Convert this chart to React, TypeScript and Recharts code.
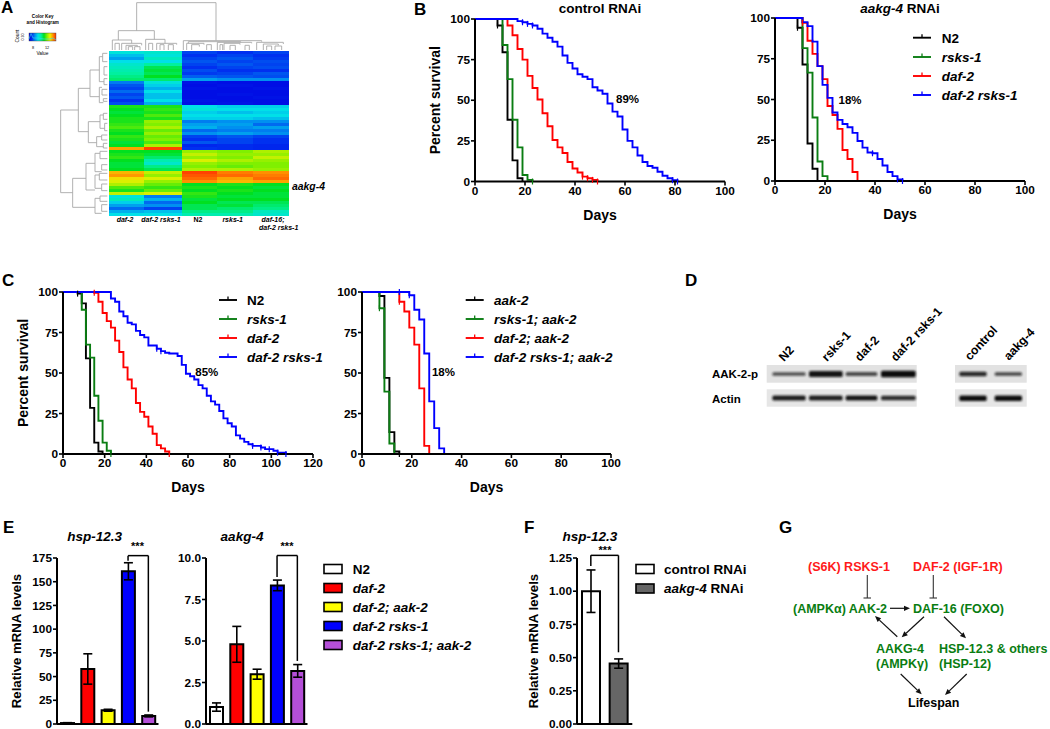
import React from "react";
import {
  ComposedChart, Line, XAxis, YAxis, ReferenceDot, ReferenceLine, BarChart, Bar, Cell, ErrorBar,
} from "recharts";

const FONT = "'Liberation Sans', Arial, sans-serif";
const BLACK = "#000000", GREEN = "#0a7d12", RED = "#ff0000", BLUE = "#0000ff";

/* ---------- survival data: [day, percent alive from that day on] ---------- */
const B1_N2 = [[0,100],[9,96],[11,79.5],[13,38],[15,13],[17,2],[19,0]];
const B1_RSKS = [[0,100],[11,84],[13,63],[15,38],[17,21],[19,4],[21,1],[23,0]];
const B1_DAF2 = [[0,100],[13,96],[15,90],[17,81.5],[19,75],[21,65],[23,57.5],[25,50.5],[27,42],[29,34],[31,25.5],[33,21],[35,17.5],[37,12],[39,8],[41,5.5],[43,3],[45,2],[47,1],[49,0]];
const B1_DR = [[0,100],[17,98.7],[19,98],[21,97],[23,96],[25,94],[27,91],[29,88.5],[31,86],[33,83],[35,77.5],[37,73],[39,69.5],[41,66],[43,64.5],[45,63],[47,58],[49,56],[51,54],[53,48],[55,43],[57,40],[59,32],[61,25],[63,21],[65,16],[67,12],[69,9.5],[71,8.5],[73,6],[75,3.5],[77,2],[79,0.8],[81,0]];
const B2_N2 = [[0,100],[9,94],[11,71.5],[13,23],[15,7.5],[17,0]];
const B2_RSKS = [[0,100],[11,81.5],[13,66.5],[15,39],[17,12],[19,3],[21,0]];
const B2_DAF2 = [[0,100],[11,97],[13,86],[15,78],[17,70.5],[19,62.5],[21,46],[23,40.5],[25,32],[27,19],[29,13.5],[31,5.5],[33,0]];
const B2_DR = [[0,100],[11,97.5],[13,95],[15,85.5],[17,70.5],[19,59],[21,51],[23,42],[25,37.5],[27,35],[29,33],[31,29.5],[33,24.5],[35,20.5],[37,17.5],[39,17],[41,13.5],[43,9.5],[45,5.5],[47,3],[49,1],[51,0]];
const C1_N2 = [[0,100],[7,99],[9,93],[11,59],[13,28.5],[15,7],[17,1.5],[19,0]];
const C1_RSKS = [[0,100],[9,89],[11,67.5],[13,59.5],[15,36],[17,20.5],[19,7],[21,2],[23,0]];
const C1_DAF2 = [[0,100],[15,99.5],[17,94],[19,87],[21,82],[23,78],[25,70],[27,63],[29,53.5],[31,46],[33,40.5],[35,31.5],[37,26],[39,23],[41,17],[43,12.5],[45,5.5],[47,3.5],[49,1.5],[51,0]];
const C1_DR = [[0,100],[23,96],[25,94],[27,88],[29,85],[31,81],[33,80],[35,76],[37,73.5],[39,72],[41,67],[43,67],[45,65],[47,63.5],[49,62.5],[51,62],[53,62],[55,60.5],[57,55],[59,49.5],[61,48],[63,46],[65,42.5],[67,40.5],[69,36],[71,32.5],[73,30.5],[75,26.5],[77,22],[79,19],[81,17],[83,11.5],[85,9.5],[87,7.5],[89,6],[91,5],[93,5],[95,4],[97,3],[99,3],[101,2],[103,0.8],[105,0.8],[107,0]];
const C2_AAK = [[0,100],[7,97.5],[9,47],[11,13.5],[13,1.5],[15,0]];
const C2_RSKS = [[0,100],[7,90],[9,38.5],[11,6.5],[13,0]];
const C2_DAF2 = [[0,100],[15,94],[17,88],[19,78],[21,67.5],[23,40.5],[25,5],[27,0]];
const C2_DR = [[0,100],[15,100],[19,98],[21,89],[23,83],[25,62],[27,32.5],[29,16],[31,3.5],[33,0]];

const B1_CENSORED = { n2: [9], rsks: [23], daf2: [43,45,47,49], dr: [19,21,23,79,81] };
const B2_CENSORED = { n2: [9], rsks: [9], daf2: [11], dr: [39,49,51] };
const C1_CENSORED = { n2: [7], rsks: [23], daf2: [15,51], dr: [45,47,91,95,99,103,107] };
const C2_CENSORED = { n2: [15], rsks: [7], daf2: [15], dr: [15,19] };

/* ---------- bar data ---------- */
const E_GENOTYPES = ["N2", "daf-2", "daf-2; aak-2", "daf-2 rsks-1", "daf-2 rsks-1; aak-2"];
const E_COLORS = ["#ffffff", "#ff0000", "#ffff00", "#0000ff", "#b44fd8"];
const E1_VALUES = [1, 58, 14.5, 161, 8.5];
const E1_ERRORS = [0.4, 16, 1, 9, 1];
const E2_VALUES = [1.02, 4.8, 3.0, 8.35, 3.2];
const E2_ERRORS = [0.25, 1.08, 0.3, 0.32, 0.38];
const F_GROUPS = ["control RNAi", "aakg-4 RNAi"];
const F_COLORS = ["#ffffff", "#666666"];
const F_VALUES = [1.0, 0.455];
const F_ERRORS = [0.16, 0.035];

/* ---------- heat map: expression level per row, top to bottom ---------- */
const HM_DAF2 = [3.2,2.6,2.2,3.0,3.4,3.6,3.8,4.0,4.2,4.4,1.8,1.4,1.2,1.6,1.2,1.4,1.0,1.3,5.2,5.0,4.8,5.0,5.2,5.2,5.4,5.6,5.2,5.0,5.4,5.2,4.8,5.0,7.8,5.0,5.2,5.4,5.0,4.8,4.8,5.0,7.6,7.9,7.2,6.8,6.4,5.6,5.2,6.6,3.2,3.6,2.8,2.2,1.6,2.4,3.0];
const HM_DAF2_RSKS = [3.4,3.2,3.6,3.0,4.0,4.6,4.8,4.6,5.0,4.4,3.2,2.8,2.4,3.0,2.6,2.6,3.0,2.4,5.2,5.4,5.2,5.6,5.2,6.2,6.0,6.4,5.8,6.2,5.8,6.0,5.6,6.4,8.8,5.0,4.8,4.4,3.8,3.4,4.2,4.6,6.6,6.2,6.8,6.2,5.8,5.4,5.8,6.8,1.8,2.4,1.6,2.0,1.2,2.6,3.0];
const HM_N2 = [1.2,1.0,1.2,1.4,1.2,1.0,1.3,1.1,1.5,2.2,0.4,0.3,0.4,0.3,0.3,0.3,0.4,0.3,3.0,3.2,2.8,3.0,2.8,1.8,2.2,2.4,1.6,2.0,1.2,1.0,1.4,0.8,1.0,6.2,6.6,6.2,6.8,6.2,6.0,6.4,8.8,8.6,8.4,8.0,5.0,5.2,5.0,5.4,5.2,4.8,5.0,4.6,4.6,4.2,3.8];
const HM_RSKS = [1.0,1.2,1.4,1.2,1.4,1.2,1.0,1.2,1.4,2.0,0.3,0.4,0.3,0.3,0.4,0.3,0.3,0.4,2.8,3.0,2.6,3.0,2.8,2.0,2.2,2.0,1.8,2.2,1.4,1.2,1.2,0.9,0.9,6.0,6.2,6.0,6.4,6.0,5.8,6.4,8.2,8.4,7.8,7.6,5.2,5.0,5.2,5.0,4.8,5.0,4.6,4.8,4.4,4.2,3.8];
const HM_DAF16 = [1.2,1.0,1.1,1.3,1.2,1.3,1.0,1.4,1.3,2.0,0.3,0.3,0.4,0.3,0.3,0.4,0.3,0.3,2.8,3.0,2.8,3.0,2.6,2.0,1.6,2.2,1.8,2.0,1.2,1.0,1.0,0.8,0.8,6.4,6.2,6.6,6.2,6.0,6.0,6.2,8.0,8.2,8.4,7.8,5.0,4.8,5.0,4.8,4.8,5.0,4.6,4.4,4.2,3.6,3.4];
const HM_COLUMNS = [HM_DAF2, HM_DAF2_RSKS, HM_N2, HM_RSKS, HM_DAF16];
const HM_COLUMN_SHARE = [35, 38, 35, 36, 36];
const HM_STOPS = ["#0000e0", "#0030f0", "#0090f0", "#00e0e8", "#00f0a0", "#00e020", "#80f000", "#f0f000", "#ff9000", "#ff3000"];

const hex = (c: string) => [1, 3, 5].map((i) => parseInt(c.slice(i, i + 2), 16));
function heatColor(v: number) {
  const i = Math.min(Math.floor(v), HM_STOPS.length - 2);
  const t = v - i;
  const a = hex(HM_STOPS[i]), b = hex(HM_STOPS[i + 1]);
  return `rgb(${a.map((x, k) => Math.round(x + (b[k] - x) * t)).join(",")})`;
}

/* ---------- dendrograms, in 1/3 px: [a, b, stem, endA, endB] ---------- */
const TOP_TREE = [
  [410,648,8,92,122],[355,463,92,120,118],[337,395,120,150,130],[365,425,130,150,136],[378,412,136,150,140],[437,495,118,150,130],[470,530,130,150,134],[446,458,130,150,150],
  [550,785,122,150,125],[565,722,125,130,127],[652,755,127,150,130],[672,720,130,150,134],[770,850,127,150,132],[790,835,132,150,136],[560,612,130,150,134],[575,598,134,150,140],
  [345,358,130,150,150],[385,398,140,150,150],[404,420,140,150,150],[480,492,134,150,150],[505,520,134,150,150],[620,634,134,150,150],[660,668,134,150,150],[690,706,136,150,150],[735,748,136,150,150],[800,815,138,150,150],[825,845,138,150,150],
];
const LEFT_TREE = [
  [330,578,182,235,218],[265,395,235,270,265],[210,290,270,298,298],[365,428,265,300,290],[535,622,218,258,285],[490,570,258,285,285],[595,640,285,300,305],
  [170,245,298,308,312],[262,308,298,306,310],[345,385,300,310,314],[410,440,290,305,310],[460,515,285,300,305],[525,565,285,298,305],
  [160,185,308,322,322],[200,225,312,322,322],[236,254,312,322,322],[268,285,306,322,322],[296,304,310,322,322],[340,358,310,322,322],[370,392,314,322,322],[405,420,305,322,322],[430,444,310,322,322],[454,476,300,322,322],[494,510,305,322,322],[520,540,298,322,322],[552,572,305,322,322],[588,604,300,322,322],[614,634,305,322,322],
];

/* ---------- blot band strengths ---------- */
const BLOT_LANES = [[337,437],[447,548],[557,652],[663,767]];
const BLOT_LANES_RIGHT = [[898,980],[1004,1086]];
const AAK_BANDS = [0.55, 0.95, 0.6, 1.0];
const ACTIN_BANDS = [0.9, 0.88, 0.95, 0.8];
const AAK_BANDS_RIGHT = [0.82, 0.62];
const ACTIN_BANDS_RIGHT = [1.0, 1.0];

type Sets = { n2: number[]; rsks: number[]; daf2: number[]; dr: number[] };
const toPoints = (steps: number[][], cens: number[]) =>
  steps.map(([x, y]) => ({ x, y, c: cens.includes(x) }));

const censorDot = (color: string) => (p: any) => {
  if (!p.payload || !p.payload.c) return <g key={p.index} />;
  return <line key={p.index} x1={p.cx} x2={p.cx} y1={p.cy - 3} y2={p.cy + 3} stroke={color} strokeWidth={1.2} />;
};

const tickStyle = { fontFamily: FONT, fontSize: 11.8, fontWeight: 700, fill: "#000" };
const labelStyle = { fontFamily: FONT, fontSize: 14, fontWeight: 700, fill: "#000" };

function Survival({ x0, y100, plotW, plotH, xMax, xTicks, series, cens, note, yLabel }: any) {
  const YW = 50, XH = 46, PAD = 8;
  const colors = [BLACK, GREEN, RED, BLUE];
  const keys: (keyof Sets)[] = ["n2", "rsks", "daf2", "dr"];
  return (
    <div style={{ position: "absolute", left: x0 - YW, top: y100 - PAD }}>
      <ComposedChart width={YW + plotW + 14} height={PAD + plotH + XH} margin={{ top: PAD, right: 14, left: 0, bottom: 0 }}>
        <XAxis
          dataKey="x" type="number" domain={[0, xMax]} ticks={xTicks} allowDuplicatedCategory={false} interval={0}
          height={XH} tick={tickStyle} tickSize={4} tickMargin={1}
          axisLine={{ stroke: "#000", strokeWidth: 2 }} tickLine={{ stroke: "#000", strokeWidth: 1.6 }}
          label={{ value: "Days", position: "insideBottom", offset: 8, style: labelStyle }}
        />
        <YAxis
          type="number" domain={[0, 100]} ticks={[0, 25, 50, 75, 100]} width={YW}
          tick={tickStyle} tickSize={4} tickMargin={1}
          axisLine={{ stroke: "#000", strokeWidth: 2 }} tickLine={{ stroke: "#000", strokeWidth: 1.6 }}
          label={yLabel ? { value: "Percent survival", angle: -90, position: "insideLeft", offset: 10, style: { ...labelStyle, textAnchor: "middle" } } : undefined}
        />
        {series.map((s: number[][], i: number) => (
          <Line
            key={keys[i]} data={toPoints(s, cens[keys[i]])} dataKey="y" type="stepAfter" stroke={colors[i]} strokeWidth={1.9}
            dot={censorDot(colors[i])} activeDot={false} isAnimationActive={false} legendType="none"
          />
        ))}
        <ReferenceDot x={note[0]} y={note[1]} r={0} stroke="none" fill="none"
          label={{ value: note[2], position: "center", style: { fontFamily: FONT, fontSize: 11.5, fontWeight: 700, fill: "#000" } }} />
      </ComposedChart>
    </div>
  );
}

function Bars({ x0, plotW, yMax, ticks, fmt, cats, values, errors, colors, barSize, bracket, yLabel, labelOffset }: any) {
  const YW = 50, PAD = 18, BOTTOM = 5;
  const rows = cats.map((g: string, i: number) => ({ g, v: values[i], e: errors[i] }));
  const yTop = 557.7, yBottom = 723.7;
  const seg = (a: any, b: any) => (
    <ReferenceLine ifOverflow="visible" segment={[a, b]} stroke="#000" strokeWidth={1.5} />
  );
  return (
    <div style={{ position: "absolute", left: x0 - YW, top: yTop - PAD }}>
      <BarChart width={YW + plotW + 2} height={PAD + (yBottom - yTop) + BOTTOM + 1} data={rows} margin={{ top: PAD, right: 2, left: 0, bottom: BOTTOM }} barCategoryGap={0}>
        <XAxis dataKey="g" type="category" height={1} tick={false} tickLine={false} axisLine={{ stroke: "#000", strokeWidth: 2 }} />
        <YAxis
          type="number" domain={[0, yMax]} ticks={ticks} width={YW} interval={0} tickFormatter={fmt}
          tick={tickStyle} tickSize={4} tickMargin={1}
          axisLine={{ stroke: "#000", strokeWidth: 2 }} tickLine={{ stroke: "#000", strokeWidth: 1.6 }}
          label={yLabel ? { value: "Relative mRNA levels", angle: -90, position: "insideLeft", offset: labelOffset, style: { ...labelStyle, fontSize: 13.2, textAnchor: "middle" } } : undefined}
        />
        <Bar dataKey="v" barSize={barSize} stroke="#000" strokeWidth={2} isAnimationActive={false}>
          {rows.map((r: any, i: number) => <Cell key={r.g} fill={colors[i]} />)}
          <ErrorBar dataKey="e" width={4.5} stroke="#000" strokeWidth={1.6} isAnimationActive={false} />
        </Bar>
        {seg({ x: bracket.from, y: bracket.top }, { x: bracket.to, y: bracket.top })}
        {seg({ x: bracket.from, y: bracket.top }, { x: bracket.from, y: bracket.fromEnd })}
        {seg({ x: bracket.to, y: bracket.top }, { x: bracket.to, y: bracket.toEnd })}
      </BarChart>
    </div>
  );
}

function Heatmap() {
  const rows = HM_DAF2.map((_, r) => {
    const o: any = { r };
    HM_COLUMN_SHARE.forEach((w, c) => (o["c" + c] = w));
    return o;
  });
  return (
    <div style={{ position: "absolute", left: 109, top: 51 }}>
      <BarChart layout="vertical" width={180} height={165} data={rows} margin={{ top: 0, right: 0, left: 0, bottom: 0 }} barCategoryGap={0} barGap={0}>
        <XAxis type="number" hide domain={[0, 180]} />
        <YAxis type="category" hide dataKey="r" />
        {HM_COLUMNS.map((col, c) => (
          <Bar key={c} dataKey={"c" + c} stackId="h" isAnimationActive={false}>
            {col.map((v, i) => <Cell key={i} fill={heatColor(v)} />)}
          </Bar>
        ))}
      </BarChart>
    </div>
  );
}

function T({ x, y, s, size = 13.5, b = true, i = false, a = "start", c = "#000", rot }: any) {
  return (
    <text x={x} y={y} fontFamily={FONT} fontSize={size} fontWeight={b ? 700 : 400} fontStyle={i ? "italic" : "normal"}
      textAnchor={a} fill={c} transform={rot ? `rotate(${rot} ${x} ${y})` : undefined}>{s}</text>
  );
}

function Arrow({ p, c = "#111" }: any) {
  const [x1, y1, x2, y2] = p;
  const ang = Math.atan2(y2 - y1, x2 - x1);
  const h = 6, w = 2.6;
  const bx = x2 - h * Math.cos(ang), by = y2 - h * Math.sin(ang);
  const nx = -Math.sin(ang) * w, ny = Math.cos(ang) * w;
  return (
    <g>
      <line x1={x1} y1={y1} x2={bx} y2={by} stroke={c} strokeWidth={1.2} />
      <polygon points={`${x2},${y2} ${bx + nx},${by + ny} ${bx - nx},${by - ny}`} fill={c} />
    </g>
  );
}

function Tree({ list, horizontal }: any) {
  return (
    <g stroke="#a8a8a8" strokeWidth={0.9} fill="none">
      {list.map((b: number[], k: number) => {
        const [p, q, s, e1, e2] = b.map((v) => v / 3);
        const d = horizontal
          ? `M${p} ${e1}V${s}H${q}V${e2}`
          : `M${e1} ${p}H${s}V${q}H${e2}`;
        return <path key={k} d={d} />;
      })}
    </g>
  );
}

function Overlay() {
  const stepLegend = (lx: number, tx: number, ys: number[], names: string[], italics: boolean[]) =>
    names.map((n, k) => (
      <g key={n}>
        <line x1={lx} x2={lx + 18} y1={ys[k]} y2={ys[k]} stroke={[BLACK, GREEN, RED, BLUE][k]} strokeWidth={1.9} />
        <line x1={lx + 9} x2={lx + 9} y1={ys[k] - 3.5} y2={ys[k]} stroke={[BLACK, GREEN, RED, BLUE][k]} strokeWidth={1.3} />
        <T x={tx} y={ys[k] + 5} s={n} i={italics[k]} />
      </g>
    ));
  const boxLegend = (lx: number, tx: number, ys: number[], names: any[], colors: string[]) =>
    names.map((n, k) => (
      <g key={k}>
        <rect x={lx} y={ys[k] - 4.5} width={18} height={9} fill={colors[k]} stroke="#000" strokeWidth={1.6} />
        <T x={tx} y={ys[k] + 4.5} s={n} i={typeof n === "string" && n !== "N2"} />
      </g>
    ));
  const band = (lane: number[], yc: number, strength: number, k: any, thick: number) => (
    <rect key={k} x={660 + lane[0] / 3} width={(lane[1] - lane[0]) / 3} y={yc - thick * strength / 2} height={thick * strength} rx={1.5}
      fill="#111" opacity={0.3 + 0.7 * strength} filter="url(#bl)" />
  );
  return (
    <svg width={1050} height={729} style={{ position: "absolute", left: 0, top: 0, pointerEvents: "none" }}>
      <defs>
        <filter id="bl" x="-20%" y="-80%" width="140%" height="260%"><feGaussianBlur stdDeviation="1.1" /></filter>
        <linearGradient id="key">
          {HM_STOPS.map((c, i) => <stop key={i} offset={`${(i / 9) * 100}%`} stopColor={c} />)}
        </linearGradient>
      </defs>

      {/* panel letters */}
      <T x={1} y={13} s="A" size={17} />
      <T x={414} y={15} s="B" size={17} />
      <T x={2} y={286} s="C" size={17} />
      <T x={685} y={286} s="D" size={17} />
      <T x={3} y={533} s="E" size={17} />
      <T x={524} y={533} s="F" size={17} />
      <T x={779} y={533} s="G" size={17} />

      {/* A: colour key */}
      <T x={42.7} y={17.5} s="Color Key" size={4.6} a="middle" />
      <T x={42.7} y={23.5} s="and Histogram" size={4.6} a="middle" />
      <rect x={29} y={33} width={27} height={8} fill="url(#key)" stroke="#444" strokeWidth={0.4} />
      <path d="M29 39 L31 33.5 L33 38 L38 38 L44 39 L50 39 L53 38 L56 40" stroke="#33ddee" strokeWidth={0.6} fill="none" />
      <T x={19} y={36} s="Count" size={4.8} b={false} a="middle" rot={-90} />
      <T x={24} y={37} s="0  30" size={3.6} b={false} a="middle" rot={-90} />
      <T x={33} y={48.5} s="8" size={3.8} b={false} a="middle" />
      <T x={47} y={48.5} s="12" size={3.8} b={false} a="middle" />
      <T x={42.5} y={54.5} s="Value" size={4.8} b={false} a="middle" />
      <Tree list={TOP_TREE} horizontal />
      <Tree list={LEFT_TREE} />
      <T x={125} y={222} s="daf-2" size={7} i a="middle" />
      <T x={161} y={222} s="daf-2 rsks-1" size={7} i a="middle" />
      <T x={198} y={222} s="N2" size={7} a="middle" />
      <T x={232.7} y={222} s="rsks-1" size={7} i a="middle" />
      <T x={273} y={222} s="daf-16;" size={7} i a="middle" />
      <T x={278.7} y={230} s="daf-2 rsks-1" size={7} i a="middle" />
      <T x={292} y={190} s="aakg-4" size={10.4} i />

      {/* B */}
      <T x={600} y={13} s="control RNAi" size={13.5} a="middle" />
      <text x={900} y={12.5} fontFamily={FONT} fontSize={13.5} fontWeight={700} textAnchor="middle">
        <tspan fontStyle="italic">aakg-4</tspan> RNAi
      </text>
      {stepLegend(913, 941.7, [37.7, 57, 76, 95], ["N2", "rsks-1", "daf-2", "daf-2 rsks-1"], [false, true, true, true])}

      {/* C */}
      {stepLegend(219, 247, [300, 319, 338, 357], ["N2", "rsks-1", "daf-2", "daf-2 rsks-1"], [false, true, true, true])}
      {stepLegend(465.7, 494, [300, 319, 338, 357], ["aak-2", "rsks-1; aak-2", "daf-2; aak-2", "daf-2 rsks-1; aak-2"], [true, true, true, true])}

      {/* D */}
      <rect x={766.7} y={365} width={150} height={17.7} fill="#e2e2e2" />
      <rect x={766.7} y={389.3} width={150} height={17.4} fill="#e6e6e6" />
      <rect x={955} y={365} width={71.7} height={17.7} fill="#e2e2e2" />
      <rect x={955} y={389.3} width={71.7} height={17.4} fill="#e6e6e6" />
      {BLOT_LANES.map((l, k) => band(l, 374, AAK_BANDS[k], "a" + k, 6.5))}
      {BLOT_LANES.map((l, k) => band(l, 398, ACTIN_BANDS[k], "b" + k, 5.5))}
      {BLOT_LANES_RIGHT.map((l, k) => band(l, 374, AAK_BANDS_RIGHT[k], "c" + k, 5.5))}
      {BLOT_LANES_RIGHT.map((l, k) => band(l, 398.3, ACTIN_BANDS_RIGHT[k], "d" + k, 5.5))}
      <T x={712} y={378} s="AAK-2-p" size={11.5} />
      <T x={712} y={403} s="Actin" size={11.5} />
      <T x={784} y={362} s="N2" size={12.2} rot={-47} />
      <T x={827} y={362} s="rsks-1" size={12.2} rot={-47} />
      <T x={860} y={362} s="daf-2" size={12.2} rot={-47} />
      <T x={896} y={362} s="daf-2 rsks-1" size={12.2} rot={-47} />
      <T x={970} y={361} s="control" size={12.2} rot={-47} />
      <T x={1009} y={361} s="aakg-4" size={12.2} rot={-47} />

      {/* E */}
      <T x={94.7} y={541} s="hsp-12.3" i a="middle" />
      <T x={242} y={541} s="aakg-4" i a="middle" />
      <T x={137.5} y={550} s="***" size={11} a="middle" />
      <T x={287} y={550} s="***" size={11} a="middle" />
      {boxLegend(324, 352.7, [569, 588, 607, 626, 645], E_GENOTYPES, E_COLORS)}

      {/* F */}
      <T x={590} y={541} s="hsp-12.3" i a="middle" />
      <T x={605} y={554} s="***" size={11} a="middle" />
      <rect x={636} y={564.5} width={18} height={9} fill="#fff" stroke="#000" strokeWidth={1.6} />
      <rect x={636} y={584} width={18} height={9} fill="#666" stroke="#000" strokeWidth={1.6} />
      <T x={664} y={574} s="control RNAi" />
      <text x={664} y={593} fontFamily={FONT} fontSize={13.5} fontWeight={700}><tspan fontStyle="italic">aakg-4</tspan> RNAi</text>

      {/* G */}
      <T x={808} y={571} s="(S6K) RSKS-1" size={12.5} c="#ff1a1a" />
      <T x={913} y={571} s="DAF-2 (IGF-1R)" size={12.5} c="#ff1a1a" />
      <T x={793} y={613} s="(AMPKα) AAK-2" size={12.5} c={GREEN} />
      <T x={913} y={613} s="DAF-16 (FOXO)" size={12.5} c={GREEN} />
      <T x={876} y={653} s="AAKG-4" size={12.5} c={GREEN} />
      <T x={876} y={668} s="(AMPKγ)" size={12.5} c={GREEN} />
      <T x={939} y={653} s="HSP-12.3 & others" size={12.5} c={GREEN} />
      <T x={939} y={668} s="(HSP-12)" size={12.5} c={GREEN} />
      <T x={908} y={707} s="Lifespan" size={12.5} />
      <g stroke="#333" strokeWidth={1.1}>
        <line x1={867.3} y1={575} x2={867.3} y2={598} /><line x1={863.5} y1={598} x2={871} y2={598} />
        <line x1={933.3} y1={575} x2={933.3} y2={598} /><line x1={929.5} y1={598} x2={937} y2={598} />
      </g>
      <Arrow p={[890, 608.3, 910, 608.3]} />
      <Arrow p={[897.3, 636.7, 875, 616]} />
      <Arrow p={[924, 616.7, 901.7, 637.3]} />
      <Arrow p={[944, 616.7, 966, 638.3]} />
      <Arrow p={[900.7, 674, 921.7, 694.3]} />
      <Arrow p={[966.7, 674, 945, 695]} />
    </svg>
  );
}

export default function App() {
  const t5 = [0, 20, 40, 60, 80, 100];
  return (
    <div style={{ position: "absolute", left: 0, top: 0, width: 1050, height: 729, background: "#fff", overflow: "hidden" }}>
      <Heatmap />
      <Survival x0={475} y100={19} plotW={250} plotH={162.5} xMax={100} xTicks={t5} yLabel
        series={[B1_N2, B1_RSKS, B1_DAF2, B1_DR]} cens={B1_CENSORED} note={[61, 50.7, "89%"]} />
      <Survival x0={775} y100={18} plotW={250} plotH={163} xMax={100} xTicks={t5}
        series={[B2_N2, B2_RSKS, B2_DAF2, B2_DR]} cens={B2_CENSORED} note={[30, 50, "18%"]} />
      <Survival x0={63} y100={292} plotW={250} plotH={162} xMax={120} xTicks={[0, 20, 40, 60, 80, 100, 120]} yLabel
        series={[C1_N2, C1_RSKS, C1_DAF2, C1_DR]} cens={C1_CENSORED} note={[69, 50.6, "85%"]} />
      <Survival x0={362} y100={292} plotW={249} plotH={162} xMax={100} xTicks={t5}
        series={[C2_AAK, C2_RSKS, C2_DAF2, C2_DR]} cens={C2_CENSORED} note={[32.7, 50.6, "18%"]} />
      <Bars x0={56.7} plotW={101.5} yMax={175} ticks={[0, 25, 50, 75, 100, 125, 150, 175]} fmt={(v: number) => String(v)}
        cats={E_GENOTYPES} values={E1_VALUES} errors={E1_ERRORS} colors={E_COLORS} barSize={13} yLabel labelOffset={9.3}
        bracket={{ from: E_GENOTYPES[3], to: E_GENOTYPES[4], top: 177.5, fromEnd: 172, toEnd: 13 }} />
      <Bars x0={205.7} plotW={101.5} yMax={10} ticks={[0, 2.5, 5, 7.5, 10]} fmt={(v: number) => v.toFixed(1)}
        cats={E_GENOTYPES} values={E2_VALUES} errors={E2_ERRORS} colors={E_COLORS} barSize={13}
        bracket={{ from: E_GENOTYPES[3], to: E_GENOTYPES[4], top: 10.15, fromEnd: 8.85, toEnd: 3.8 }} />
      <Bars x0={576.7} plotW={55.3} yMax={1.25} ticks={[0, 0.25, 0.5, 0.75, 1, 1.25]} fmt={(v: number) => v.toFixed(2)}
        cats={F_GROUPS} values={F_VALUES} errors={F_ERRORS} colors={F_COLORS} barSize={18} yLabel labelOffset={6.3}
        bracket={{ from: F_GROUPS[0], to: F_GROUPS[1], top: 1.27, fromEnd: 1.19, toEnd: 0.54 }} />
      <Overlay />
    </div>
  );
}
